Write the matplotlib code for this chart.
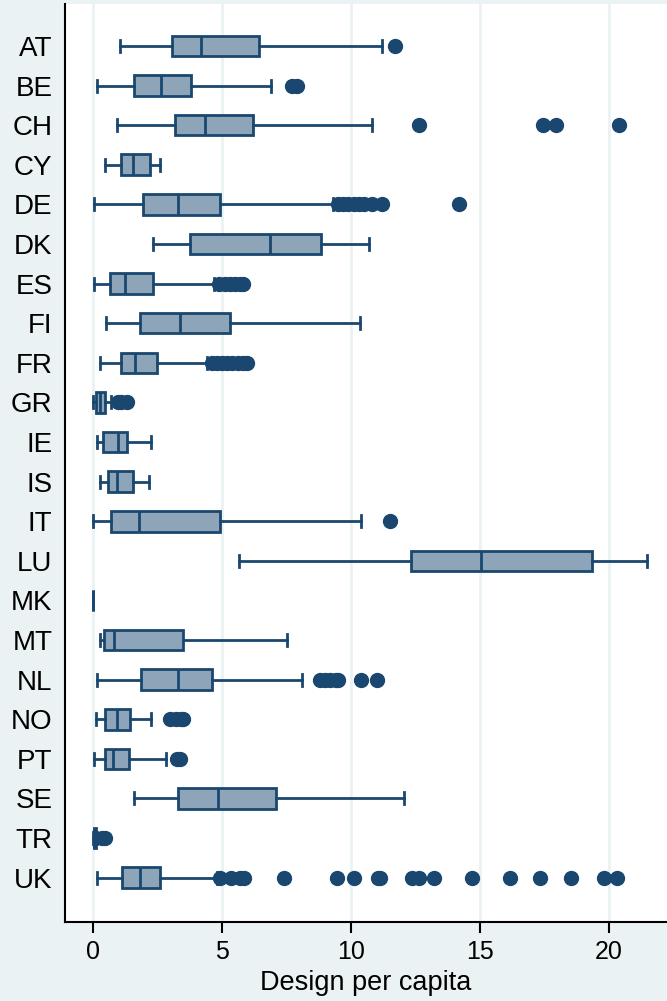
import numpy as np
import matplotlib
matplotlib.use("Agg")
import matplotlib.pyplot as plt

plt.rcParams['font.family'] = ['Liberation Sans', 'DejaVu Sans']

countries = ["AT", "BE", "CH", "CY", "DE", "DK", "ES", "FI", "FR", "GR", "IE",
             "IS", "IT", "LU", "MK", "MT", "NL", "NO", "PT", "SE", "TR", "UK"]

whislo = [1.04, 0.17, 0.91, 0.46, 0.05, 2.32, 0.02, 0.51, 0.26, 0.00, 0.17,
          0.26, 0.00, 5.66, 0.00, 0.25, 0.17, 0.10, 0.05, 1.57, 0.00, 0.17]
q1 = [3.06, 1.59, 3.16, 1.08, 1.95, 3.77, 0.65, 1.80, 1.08, 0.12, 0.38,
      0.58, 0.68, 12.32, 0.00, 0.43, 1.85, 0.46, 0.45, 3.28, 0.02, 1.11]
med = [4.19, 2.62, 4.35, 1.56, 3.28, 6.84, 1.24, 3.36, 1.61, 0.26, 0.96,
       0.94, 1.79, 15.05, 0.00, 0.81, 3.28, 0.94, 0.76, 4.83, 0.05, 1.80]
q3 = [6.42, 3.81, 6.21, 2.19, 4.92, 8.82, 2.32, 5.30, 2.47, 0.46, 1.32,
      1.54, 4.92, 19.35, 0.00, 3.48, 4.59, 1.42, 1.39, 7.09, 0.10, 2.58]
whishi = [11.19, 6.89, 10.81, 2.58, 9.30, 10.70, 4.70, 10.36, 4.40, 0.70, 2.24,
          2.17, 10.40, 21.49, 0.00, 7.52, 8.11, 2.24, 2.83, 12.05, 0.15, 4.80]
outliers = [
    [11.69],
    [7.72, 7.91],
    [12.65, 17.43, 17.96, 20.38],
    [],
    [9.5, 9.7, 9.9, 10.1, 10.3, 10.5, 10.8, 11.2, 14.2],
    [],
    [4.9, 5.1, 5.3, 5.5, 5.7, 5.8],
    [],
    [4.6, 4.8, 5.0, 5.2, 5.4, 5.6, 5.8, 5.95],
    [0.96, 1.1, 1.3],
    [],
    [],
    [11.52],
    [],
    [],
    [],
    [8.8, 9.0, 9.2, 9.4, 9.5, 10.4, 11.0],
    [3.0, 3.2, 3.4, 3.5],
    [3.25, 3.36],
    [],
    [0.35, 0.45],
    [4.93, 5.35, 5.68, 5.84, 7.42, 9.44, 10.1, 11.03, 11.14, 12.35, 12.63,
     13.21, 14.7, 16.16, 17.32, 18.51, 19.8, 20.33],
]

navy = '#1a476f'
fill = '#8ea4b8'
bg = '#eaf2f3'

fig = plt.figure(figsize=(6.67, 10.01), dpi=100, facecolor=bg)
ax = fig.add_axes([65 / 667, 79 / 1001, 1 - 65 / 667, (922 - 4) / 1001])
ax.set_facecolor('white')

stats = []
for i in range(len(countries)):
    stats.append(dict(label=countries[i], whislo=whislo[i], q1=q1[i], med=med[i],
                      q3=q3[i], whishi=whishi[i], fliers=outliers[i]))

pos = np.arange(len(countries))
ax.bxp(stats, positions=pos, vert=False, widths=0.52, patch_artist=True,
       boxprops=dict(facecolor=fill, edgecolor=navy, linewidth=2),
       medianprops=dict(color=navy, linewidth=2),
       whiskerprops=dict(color=navy, linewidth=2),
       capprops=dict(color=navy, linewidth=2),
       capwidths=0.3,
       flierprops=dict(marker='o', markerfacecolor=navy, markeredgecolor=navy,
                       markersize=10),
       zorder=3)

ax.set_xlim(-1.09, 22.25)
ax.set_ylim(22.12, -1.06)

for t in [0, 5, 10, 15, 20]:
    ax.axvline(t, color=bg, linewidth=2, zorder=1)

ax.set_xticks([0, 5, 10, 15, 20])
ax.set_xticklabels(["0", "5", "10", "15", "20"], fontsize=18)
ax.set_yticks(pos)
ax.set_yticklabels(countries, fontsize=20)
ax.tick_params(axis='y', length=0, pad=9)
ax.tick_params(axis='x', length=8, width=1.5, pad=5)
ax.set_xlabel("Design per capita", fontsize=19.5, labelpad=4)

for s in ['top', 'right']:
    ax.spines[s].set_visible(False)
for s in ['left', 'bottom']:
    ax.spines[s].set_linewidth(1.5)

fig.savefig("out.png", dpi=100, facecolor=bg)
